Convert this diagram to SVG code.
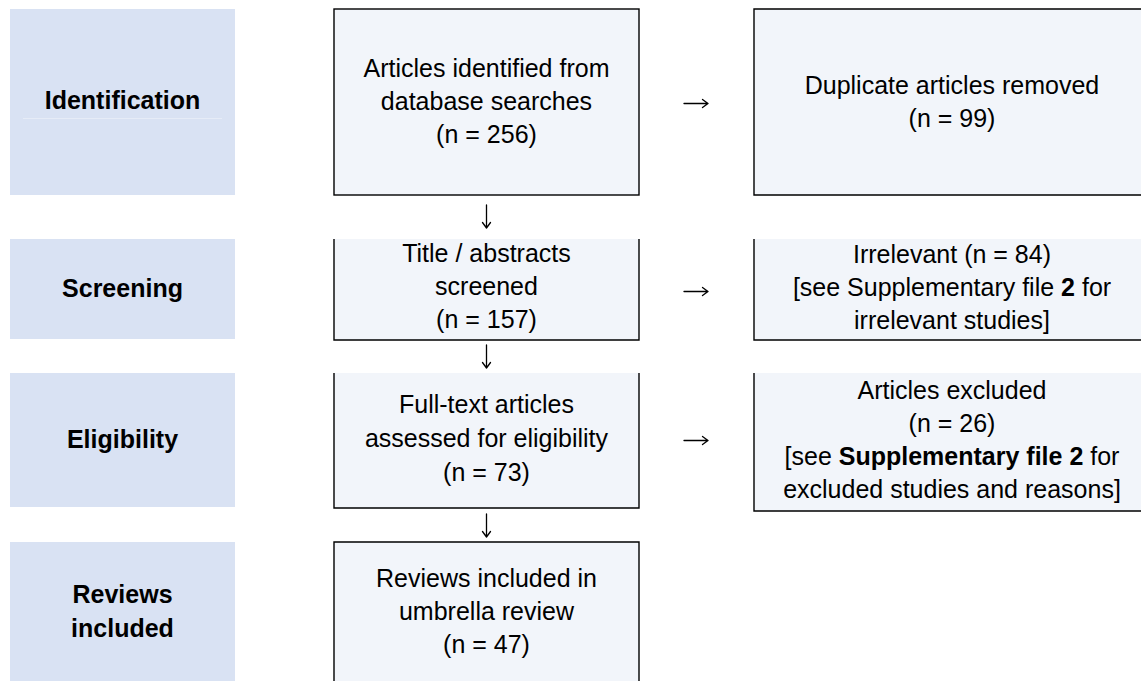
<svg xmlns="http://www.w3.org/2000/svg" width="1141" height="681" viewBox="0 0 1141 681">
<style>
.lab{fill:#D9E2F3}
.box{fill:#F2F5FA}
.bd{fill:none;stroke:#000;stroke-width:1.4}
.arr{fill:none;stroke:#000;stroke-width:1.3;stroke-linecap:round;stroke-linejoin:round}
text{font-family:"Liberation Sans",Arial,sans-serif;font-size:25px;fill:#000;text-anchor:middle}
.b{font-weight:bold}
</style>
<rect width="1141" height="681" fill="#fff"/>
<g id="label-identification">
<rect class="lab" x="10" y="9" width="225" height="186"/>
<line x1="23" y1="118.5" x2="222" y2="118.5" stroke="#E6ECF7" stroke-width="1"/>
<text class="b" x="122.5" y="109">Identification</text>
</g>
<g id="label-screening">
<rect class="lab" x="10" y="239" width="225" height="100"/>
<text class="b" x="122.5" y="297">Screening</text>
</g>
<g id="label-eligibility">
<rect class="lab" x="10" y="373" width="225" height="134"/>
<text class="b" x="122.5" y="448">Eligibility</text>
</g>
<g id="label-included">
<rect class="lab" x="10" y="542" width="225" height="145"/>
<text class="b" x="122.5" y="603">Reviews</text>
<text class="b" x="122.5" y="637">included</text>
</g>
<g id="n-identified">
<rect class="box" x="334" y="9" width="305" height="186"/>
<rect class="bd" x="334" y="9" width="305" height="186"/>
<text x="486.5" y="77">Articles identified from</text>
<text x="486.5" y="110">database searches</text>
<text x="486.5" y="143">(n = 256)</text>
</g>
<g id="n-duplicates">
<rect class="box" x="754" y="9" width="396" height="186"/>
<path class="bd" d="M1150,9 H754 V195 H1150"/>
<text x="952" y="94">Duplicate articles removed</text>
<text x="952" y="127">(n = 99)</text>
</g>
<g id="n-screened">
<rect class="box" x="334" y="239" width="305" height="101"/>
<path class="bd" d="M334,239 V340 H639 V239"/>
<text x="486.5" y="262">Title / abstracts</text>
<text x="486.5" y="295">screened</text>
<text x="486.5" y="328">(n = 157)</text>
</g>
<g id="n-irrelevant">
<rect class="box" x="754" y="239" width="396" height="101"/>
<path class="bd" d="M754,239 V340 H1150"/>
<text x="952" y="263">Irrelevant (n = 84)</text>
<text x="952" y="296">[see Supplementary file <tspan class="b">2</tspan> for</text>
<text x="952" y="329">irrelevant studies]</text>
</g>
<g id="n-fulltext">
<rect class="box" x="334" y="373" width="305" height="135"/>
<path class="bd" d="M334,373 V508 H639 V373"/>
<text x="486.5" y="413">Full-text articles</text>
<text x="486.5" y="447">assessed for eligibility</text>
<text x="486.5" y="481">(n = 73)</text>
</g>
<g id="n-excluded">
<rect class="box" x="754" y="373" width="396" height="138"/>
<path class="bd" d="M754,373 V511 H1150"/>
<text x="952" y="399">Articles excluded</text>
<text x="952" y="432">(n = 26)</text>
<text x="952" y="465">[see <tspan class="b">Supplementary file 2</tspan> for</text>
<text x="952" y="498">excluded studies and reasons]</text>
</g>
<g id="n-included">
<rect class="box" x="334" y="542" width="305" height="145"/>
<path class="bd" d="M334,690 V542 H639 V690"/>
<text x="486.5" y="587">Reviews included in</text>
<text x="486.5" y="620">umbrella review</text>
<text x="486.5" y="653">(n = 47)</text>
</g>
<g id="connectors">
<path class="arr" d="M684,103.5 H708 M702.5,99.5 L708,103.5 L702.5,107.5"/>
<path class="arr" d="M684,291.5 H708 M702.5,287.5 L708,291.5 L702.5,295.5"/>
<path class="arr" d="M684,440.5 H708 M702.5,436.5 L708,440.5 L702.5,444.5"/>
<path class="arr" d="M486.5,205 V228 M482.5,222.5 L486.5,228 L490.5,222.5"/>
<path class="arr" d="M486.5,345 V368 M482.5,362.5 L486.5,368 L490.5,362.5"/>
<path class="arr" d="M486.5,514 V537 M482.5,531.5 L486.5,537 L490.5,531.5"/>
</g>
</svg>
